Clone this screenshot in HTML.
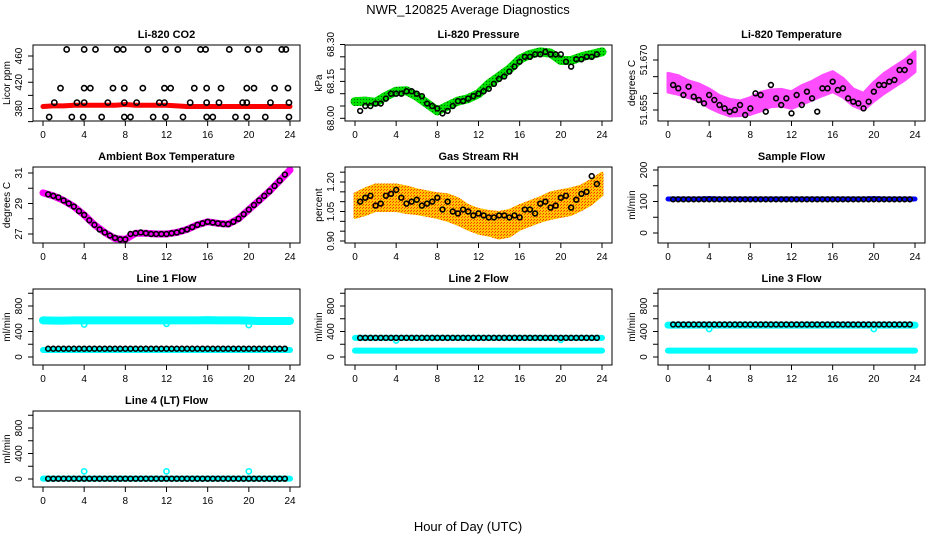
<!DOCTYPE html>
<html><head><meta charset="utf-8">
<style>
html,body{margin:0;padding:0;background:#fff;}
svg{display:block;font-family:"Liberation Sans",Arial,sans-serif;}
</style></head>
<body>
<svg id="chart" width="936" height="540" viewBox="0 0 936 540" xmlns="http://www.w3.org/2000/svg">
<defs>
<pattern id="rhPat" width="3" height="3" patternUnits="userSpaceOnUse"><rect width="3" height="3" fill="#ffc400"/><rect width="1" height="1" fill="#ff3000"/><rect x="2" y="1" width="1" height="1" fill="#ff5000"/></pattern>
<pattern id="prPat" width="3" height="3" patternUnits="userSpaceOnUse"><rect width="3" height="3" fill="#00e000"/><rect width="1" height="1" fill="#006000"/></pattern>
</defs>
<text x="468" y="14" text-anchor="middle" font-size="13">NWR_120825  Average Diagnostics</text>
<text x="468" y="531" text-anchor="middle" font-size="13">Hour of Day (UTC)</text>
</svg>
<script>
// ---- data ----
const xTicks = [0,4,8,12,16,20,24];
const co2Band = [383,384,384,385,385,385,385,385,386,385,385,385,385,384,383,383,383,383,383,383,383,383,383,383,383];
const co2BlackHours = [2.3,4.0,5.1,7.2,7.8,10.2,11.9,13.1,15.3,15.8,18.1,19.9,21.0,23.2,23.6,
 1.7,4.0,4.6,6.8,7.9,9.7,11.8,12.4,14.7,15.9,17.3,19.8,20.5,22.5,23.8,
 1.1,3.3,4.0,6.3,7.9,9.1,11.3,11.8,14.3,15.9,17.1,19.4,19.8,22.1,23.9,
 0.6,2.8,3.9,5.7,7.9,8.5,10.7,11.9,13.6,15.9,16.5,18.7,19.8,21.6,23.9];
const co2BlackVals = [470,470,470,470,470,470,470,470,470,470,470,470,470,470,470,
 411,411,411,411,411,411,411,411,411,411,411,411,411,411,411,
 389,389,389,389,389,389,389,389,389,389,389,389,389,389,389,
 367,367,367,367,367,367,367,367,367,367,367,367,367,367,367];
const presBand = [68.068,68.07,68.065,68.09,68.11,68.112,68.09,68.06,68.03,68.05,68.07,68.08,68.10,68.14,68.17,68.20,68.24,68.26,68.27,68.265,68.235,68.235,68.25,68.26,68.27];
const presBlack = [68.03,68.05,68.05,68.06,68.06,68.08,68.10,68.10,68.10,68.11,68.11,68.10,68.09,68.06,68.05,68.04,68.02,68.03,68.05,68.07,68.07,68.08,68.09,68.10,68.11,68.12,68.14,68.16,68.17,68.19,68.21,68.23,68.25,68.25,68.26,68.26,68.27,68.26,68.26,68.26,68.23,68.21,68.24,68.24,68.25,68.25,68.26];
const tempBand = [51.6632,51.6625,51.6612,51.6603,51.6585,51.6568,51.6557,51.6555,51.6562,51.6575,51.6585,51.6587,51.658,51.6595,51.6608,51.6623,51.6635,51.6617,51.6588,51.6575,51.6605,51.663,51.665,51.667,51.6695];
const tempSpread = [0.0028,0.0028,0.0025,0.0025,0.0028,0.0025,0.0025,0.0022,0.0025,0.0028,0.0025,0.0025,0.0025,0.0028,0.0028,0.003,0.003,0.0028,0.0025,0.0025,0.0028,0.003,0.003,0.003,0.003];
const tempBlack = [51.6625,51.6615,51.6595,51.662,51.659,51.658,51.657,51.6595,51.658,51.6565,51.6555,51.6545,51.655,51.6565,51.6535,51.6555,51.66,51.6595,51.6545,51.6625,51.6585,51.6565,51.6585,51.654,51.6595,51.6565,51.6605,51.6585,51.6545,51.6615,51.6615,51.6635,51.661,51.6615,51.6585,51.6575,51.657,51.6555,51.6575,51.6605,51.6625,51.6625,51.6635,51.664,51.667,51.667,51.6695];
const ambBand = [29.7,29.5,29.2,28.8,28.25,27.6,27.1,26.7,26.65,27.05,27.05,27.0,27.0,27.1,27.3,27.6,27.8,27.7,27.65,28.0,28.6,29.2,29.8,30.5,31.2];
const ambBlack = [29.6,29.5,29.4,29.2,29.0,28.8,28.5,28.25,27.9,27.6,27.3,27.1,26.9,26.75,26.65,26.65,27.0,27.05,27.1,27.05,27.0,27.0,27.0,27.0,27.05,27.1,27.2,27.3,27.45,27.6,27.7,27.8,27.75,27.7,27.65,27.65,27.8,28.0,28.3,28.6,28.9,29.2,29.5,29.8,30.15,30.5,30.9];
const rhBand = [1.08,1.10,1.12,1.12,1.12,1.11,1.10,1.09,1.08,1.07,1.05,1.02,1.00,0.99,0.98,0.99,1.02,1.04,1.06,1.08,1.09,1.10,1.12,1.15,1.19];
const rhSpread = [0.06,0.065,0.065,0.065,0.065,0.065,0.06,0.06,0.06,0.065,0.065,0.06,0.06,0.06,0.065,0.065,0.06,0.06,0.06,0.065,0.065,0.065,0.06,0.06,0.055];
const rhBlack = [1.10,1.12,1.13,1.08,1.09,1.13,1.14,1.16,1.12,1.09,1.10,1.11,1.08,1.09,1.10,1.12,1.06,1.10,1.05,1.04,1.06,1.05,1.03,1.04,1.03,1.02,1.02,1.03,1.03,1.02,1.03,1.02,1.06,1.06,1.04,1.09,1.10,1.07,1.08,1.12,1.13,1.07,1.11,1.14,1.15,1.23,1.19];
const sampleBlue = [108,108,108,108,109,108,108,108,108,108,108,108,108,108,108,108,108,108,108,108,109,108,108,108,108];
const sampleBlack = [107,107,107,107,107,107,107,107,107,107,107,107,107,107,107,107,107,107,107,107,107,107,107,107,107,107,107,107,107,107,107,107,107,107,107,107,107,107,107,107,107,107,107,107,107,107,107];
const l1CyanHigh = [575,570,570,575,575,575,575,575,575,575,575,575,575,575,575,575,578,575,575,575,570,565,565,565,565];
const l1CyanLow = [110,110,110,110,110,110,110,110,110,110,110,110,110,110,110,110,110,110,110,110,110,110,110,110,110];
const l1Black = [130,130,130,130,130,130,130,130,130,130,130,130,130,130,130,130,130,130,130,130,130,130,130,130,130,130,130,130,130,130,130,130,130,130,130,130,130,130,130,130,130,130,130,130,130,130,130];
const l1OutHours = [4,12,20];
const l1OutVals = [510,520,500];
const l2CyanHigh = [300,300,300,300,300,300,300,300,300,300,300,300,300,300,300,300,300,300,300,300,300,300,300,300,300];
const l2CyanLow = [100,100,100,100,100,100,100,100,100,100,100,100,100,100,100,100,100,100,100,100,100,100,100,100,100];
const l2Black = [300,300,300,300,300,300,300,300,300,300,300,300,300,300,300,300,300,300,300,300,300,300,300,300,300,300,300,300,300,300,300,300,300,300,300,300,300,300,300,300,300,300,300,300,300,300,300];
const l2OutHours = [4,20];
const l2OutVals = [260,270];
const l3CyanHigh = [500,500,500,500,500,500,500,500,500,500,500,500,500,500,500,500,500,500,500,500,500,500,500,500,500];
const l3CyanLow = [100,100,100,100,100,100,100,100,100,100,100,100,100,100,100,100,100,100,100,100,100,100,100,100,100];
const l3Black = [510,510,510,510,510,510,510,510,510,510,510,510,510,510,510,510,510,510,510,510,510,510,510,510,510,510,510,510,510,510,510,510,510,510,510,510,510,510,510,510,510,510,510,510,510,510,510];
const l3OutHours = [4,20];
const l3OutVals = [440,440];
const l4Cyan = [5,5,5,5,5,5,5,5,5,5,5,5,5,5,5,5,5,5,5,5,5,5,5,5,5];
const l4Black = [5,5,5,5,5,5,5,5,5,5,5,5,5,5,5,5,5,5,5,5,5,5,5,5,5,5,5,5,5,5,5,5,5,5,5,5,5,5,5,5,5,5,5,5,5,5,5];
const l4OutHours = [4,12,20];
const l4OutVals = [120,120,120];

// ---- drawing ----
const NS = "http://www.w3.org/2000/svg";
const svg = document.getElementById("chart");
function mk(tag, attrs, parent){ const e=document.createElementNS(NS,tag); for(const k in attrs) e.setAttribute(k,attrs[k]); (parent||svg).appendChild(e); return e; }
const colLeft=[33,345,658], W=267, H=76;
function panel(col,row,o){
  const L=colLeft[col], T=45+122*row, R=L+W, B=T+H;
  const g=mk("g",{});
  
  
  const xs=h=>L+10+h*(W-20)/24;
  const ys=v=>o.p0+(v-o.v0)*(o.p1-o.p0)/(o.v1-o.v0)+T;
  o.draw(g,xs,ys);
  const box=mk("rect",{x:L,y:T,width:W,height:H,fill:"none",stroke:"#000","stroke-width":1},g);
  
  
  const t=mk("text",{x:L+W/2,y:T-7,"text-anchor":"middle","font-size":11,"font-weight":"bold"},g);
  t.textContent=o.title;
  
  
  mk("line",{x1:xs(0),x2:xs(24),y1:B,y2:B,stroke:"#000"},g);
  xTicks.forEach(v=>{
    mk("line",{x1:xs(v),x2:xs(v),y1:B,y2:B+5,stroke:"#000"},g);
    const tl=mk("text",{x:xs(v),y:B+17,"text-anchor":"middle","font-size":10},g);
    tl.textContent=v;
    
    
  });
  const yt=o.ticks;
  mk("line",{x1:L,x2:L,y1:ys(yt[0]),y2:ys(yt[yt.length-1]),stroke:"#000"},g);
  yt.forEach(v=>{ mk("line",{x1:L-5,x2:L,y1:ys(v),y2:ys(v),stroke:"#000"},g); });
  o.labels.forEach(v=>{
    const yy=ys(v), xx=L-11;
    const tl=mk("text",{x:xx,y:yy,"text-anchor":"middle","font-size":10,transform:`rotate(-90 ${xx} ${yy})`},g);
    tl.textContent=o.fmt?o.fmt(v):v;
    
    
  });
  const yl=mk("text",{x:L-23,y:T+H/2,"text-anchor":"middle","font-size":10,transform:`rotate(-90 ${L-23} ${T+H/2})`},g);
  yl.textContent=o.ylab;
  
  
}
function bandLine(g,xs,ys,vals,color,w,name){
  const pts=vals.map((v,i)=>xs(i)+","+ys(v)).join(" ");
  const p=mk("polyline",{points:pts,fill:"none",stroke:color,"stroke-width":w,"stroke-linecap":"round","stroke-linejoin":"round"},g);
  
  
}
function bandArea(g,xs,ys,c,s,fill,name,op){
  const up=c.map((v,i)=>xs(i)+","+ys(v+s[i]));
  const dn=c.map((v,i)=>xs(i)+","+ys(v-s[i])).reverse();
  const p=mk("polygon",{points:up.concat(dn).join(" "),fill:fill,stroke:fill,"stroke-width":3,"stroke-linejoin":"round",opacity:op||1},g);
  
  
}
function dotsHalf(g,xs,ys,vals,color,name){
  vals.forEach((v,i)=>{
    const c=mk("circle",{cx:xs(0.5*(i+1)),cy:ys(v),r:2.4,fill:"none",stroke:color,"stroke-width":1.6},g);
    
    
  });
}
function dotsXY(g,xs,ys,hrs,vals,color,name){
  hrs.forEach((h,i)=>{
    const c=mk("circle",{cx:xs(h),cy:ys(vals[i]),r:2.6,fill:"none",stroke:color,"stroke-width":1.6},g);
    
    
  });
}
const flowTicks=[0,200,400,600,800,1000], flowLabels=[0,400,800];

panel(0,0,{name:"co2",title:"Li-820 CO2",ylab:"Licor ppm",v0:380,p0:63.5,v1:460,p1:11,
  ticks:[360,380,400,420,440,460],labels:[380,420,460],
  draw:(g,xs,ys)=>{ bandLine(g,xs,ys,co2Band,"#ff0000",5,"co2-red-series"); dotsXY(g,xs,ys,co2BlackHours,co2BlackVals,"#000","co2-black-point"); }});
panel(1,0,{name:"pressure",title:"Li-820 Pressure",ylab:"kPa",v0:68.0,p0:73.3,v1:68.3,p1:-0.5,
  ticks:[68.0,68.05,68.1,68.15,68.2,68.25,68.3],labels:[68.0,68.15,68.3],fmt:v=>v.toFixed(2),
  draw:(g,xs,ys)=>{ bandLine(g,xs,ys,presBand,"url(#prPat)",9,"pressure-green-series"); dotsHalf(g,xs,ys,presBlack,"#000","pressure-black-point"); }});
panel(2,0,{name:"licor-temp",title:"Li-820 Temperature",ylab:"degrees C",v0:51.655,p0:65,v1:51.670,p1:15,
  ticks:[51.655,51.66,51.665,51.67],labels:[51.655,51.670],fmt:v=>v.toFixed(3),
  draw:(g,xs,ys)=>{ bandArea(g,xs,ys,tempBand,tempSpread,"#ff30ff","licor-temp-magenta-cloud",0.85); dotsHalf(g,xs,ys,tempBlack,"#000","licor-temp-black-point"); }});
panel(0,1,{name:"ambient",title:"Ambient Box Temperature",ylab:"degrees C",v0:27,p0:67,v1:31,p1:6,
  ticks:[27,28,29,30,31],labels:[27,29,31],
  draw:(g,xs,ys)=>{ bandLine(g,xs,ys,ambBand,"#ff00ff",7,"ambient-magenta-series"); dotsHalf(g,xs,ys,ambBlack,"#000","ambient-black-point"); }});
panel(1,1,{name:"rh",title:"Gas Stream RH",ylab:"percent",v0:0.9,p0:74,v1:1.2,p1:15,
  ticks:[0.9,0.95,1.0,1.05,1.1,1.15,1.2,1.25],labels:[0.9,1.05,1.2],fmt:v=>v.toFixed(2),
  draw:(g,xs,ys)=>{ bandArea(g,xs,ys,rhBand,rhSpread,"url(#rhPat)","rh-orange-cloud"); dotsHalf(g,xs,ys,rhBlack,"#000","rh-black-point"); }});
panel(2,1,{name:"sample-flow",title:"Sample Flow",ylab:"ml/min",v0:0,p0:66,v1:200,p1:3,
  ticks:[0,50,100,150,200],labels:[0,100,200],
  draw:(g,xs,ys)=>{ bandLine(g,xs,ys,sampleBlue,"#0000ff",5,"sample-flow-blue-series"); dotsHalf(g,xs,ys,sampleBlack,"#000","sample-flow-black-point"); }});
panel(0,2,{name:"line1",title:"Line 1 Flow",ylab:"ml/min",v0:0,p0:68,v1:800,p1:17,ticks:flowTicks,labels:flowLabels,
  draw:(g,xs,ys)=>{ bandLine(g,xs,ys,l1CyanHigh,"#00ffff",8,"line1-cyan-high"); bandLine(g,xs,ys,l1CyanLow,"#00ffff",6,"line1-cyan-low"); dotsXY(g,xs,ys,l1OutHours,l1OutVals,"#00ffff","line1-cyan-outlier"); dotsHalf(g,xs,ys,l1Black,"#000","line1-black-point"); }});
panel(1,2,{name:"line2",title:"Line 2 Flow",ylab:"ml/min",v0:0,p0:68,v1:800,p1:17,ticks:flowTicks,labels:flowLabels,
  draw:(g,xs,ys)=>{ bandLine(g,xs,ys,l2CyanHigh,"#00ffff",6,"line2-cyan-high"); bandLine(g,xs,ys,l2CyanLow,"#00ffff",6,"line2-cyan-low"); dotsXY(g,xs,ys,l2OutHours,l2OutVals,"#00ffff","line2-cyan-outlier"); dotsHalf(g,xs,ys,l2Black,"#000","line2-black-point"); }});
panel(2,2,{name:"line3",title:"Line 3 Flow",ylab:"ml/min",v0:0,p0:68,v1:800,p1:17,ticks:flowTicks,labels:flowLabels,
  draw:(g,xs,ys)=>{ bandLine(g,xs,ys,l3CyanHigh,"#00ffff",7,"line3-cyan-high"); bandLine(g,xs,ys,l3CyanLow,"#00ffff",6,"line3-cyan-low"); dotsXY(g,xs,ys,l3OutHours,l3OutVals,"#00ffff","line3-cyan-outlier"); dotsHalf(g,xs,ys,l3Black,"#000","line3-black-point"); }});
panel(0,3,{name:"line4",title:"Line 4 (LT) Flow",ylab:"ml/min",v0:0,p0:68,v1:800,p1:17,ticks:flowTicks,labels:flowLabels,
  draw:(g,xs,ys)=>{ bandLine(g,xs,ys,l4Cyan,"#00ffff",6,"line4-cyan-series"); dotsXY(g,xs,ys,l4OutHours,l4OutVals,"#00ffff","line4-cyan-outlier"); dotsHalf(g,xs,ys,l4Black,"#000","line4-black-point"); }});
</script>
</body></html>
